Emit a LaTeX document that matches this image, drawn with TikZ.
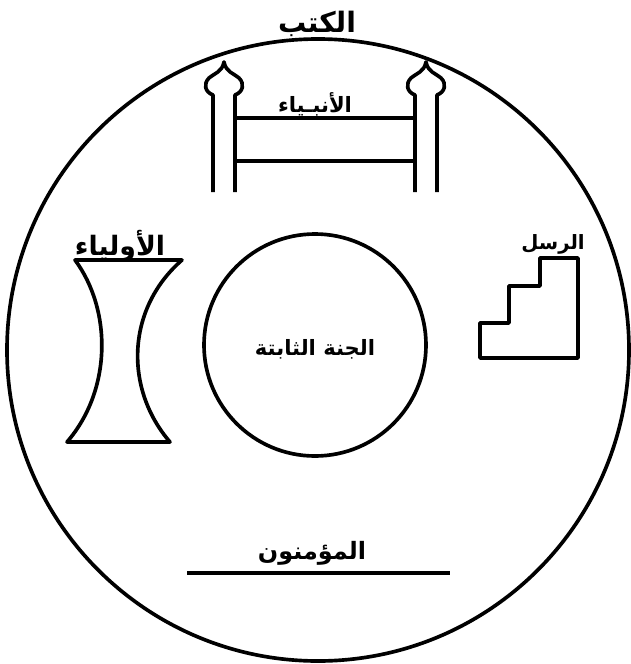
\documentclass[tikz,border=0pt]{standalone}
\usepackage{fontspec}
\newfontfamily\arabicfont[Script=Arabic]{DejaVu Sans}
\TeXXeTstate=1

\begin{document}
\begin{tikzpicture}[
        x=0.025cm, y=-0.025cm,
        every node/.style={
                inner sep=0pt,
                font=\arabicfont\bfseries\fontsize{14}{16}\selectfont
            },
        big/.style={font=\arabicfont\bfseries\fontsize{#1}{#1}\selectfont},
        outline/.style={draw, line width=2.6pt, line join=round}
    ]
    \useasboundingbox (0,0) rectangle (631,664);

    % outer circle and the garden in the middle
    \draw[outline] (318,350) circle [radius=311];
    \draw[outline] (315,345) circle [radius=111];

    \node[big=20] (books) at (317,24) {\beginR الكتب\endR};
    \node[big=15] (garden) at (315,349) {\beginR الجنة الثابتة\endR};

    % gate of the prophets
    \foreach \px in {213, 415} {
            \draw[outline] (\px,192) -- (\px,95)
            .. controls (\px-8,92) and (\px-10,84) .. (\px-4,78)
            .. controls (\px+2,73) and (\px+9,72) .. (\px+11,62)
            .. controls (\px+13,72) and (\px+20,73) .. (\px+26,78)
            .. controls (\px+32,84) and (\px+30,92) .. (\px+22,95)
            -- (\px+22,192);
        }
    \draw[outline] (235,118) -- (415,118);
    \draw[outline] (235,161) -- (415,161);
    \node[big=15] (prophets) at (315,104) {\beginR الأنبـياء\endR};

    % saints
    \draw[outline] (75,260) -- (182,260)
    .. controls (125,310) and (125,390) .. (170,442) -- (67,442)
    .. controls (112,390) and (112,310) .. (75,260) -- cycle;
    \node[big=19] (saints) at (120,246) {\beginR الأولياء\endR};

    % messengers
    \draw[outline] (480,358) -- (578,358) -- (578,258) -- (540,258)
    -- (540,286) -- (509,286) -- (509,323) -- (480,323) -- cycle;
    \node[big=14] (messengers) at (553,244) {\beginR الرسل\endR};

    % believers
    \node[big=17] (believers) at (312,553) {\beginR المؤمنون\endR};
    \coordinate (ground west) at (187,573);
    \coordinate (ground east) at (450,573);
    \draw[outline] (ground west) -- (ground east);

\end{tikzpicture}
\end{document}
